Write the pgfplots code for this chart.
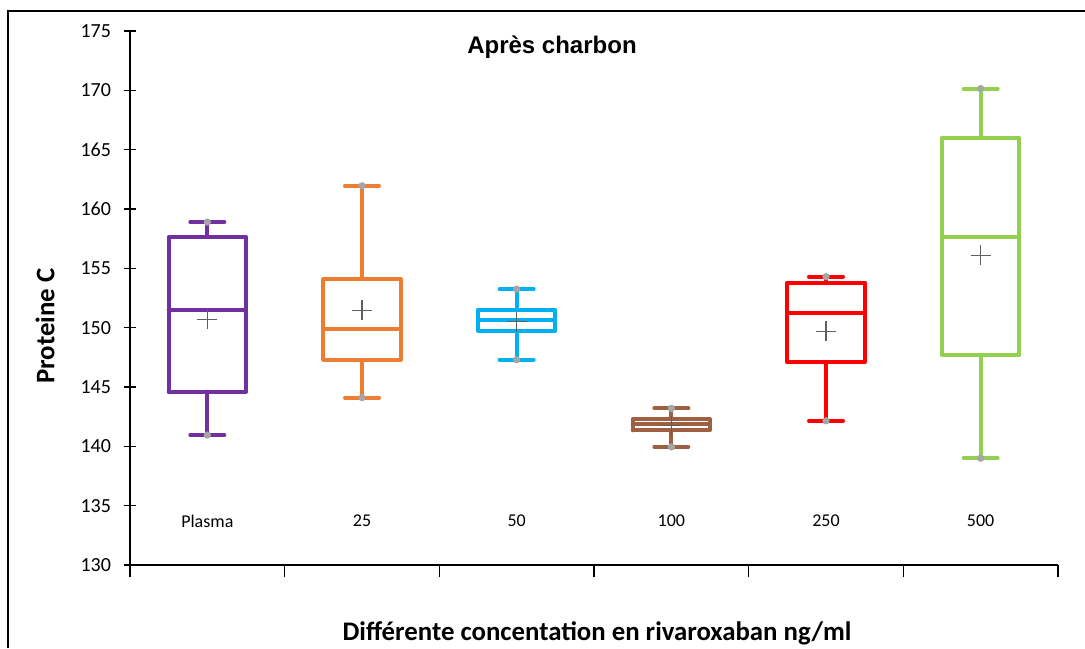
\documentclass[border=0pt]{standalone}
\usepackage{fontspec}
\setmainfont{Carlito}
\newfontfamily\arialfont{Liberation Sans}
\usepackage{pgfplots}
\pgfplotsset{compat=1.18}

\definecolor{cPurple}{HTML}{7030A0}
\definecolor{cOrange}{HTML}{ED7D31}
\definecolor{cCyan}{HTML}{00B0F0}
\definecolor{cBrown}{HTML}{9E5F42}
\definecolor{cRed}{HTML}{FF0000}
\definecolor{cGreen}{HTML}{92D050}
\definecolor{cDot}{HTML}{A6A6A6}
\definecolor{cMean}{HTML}{5F5F5F}

% 1 px of the reference = 0.5pt
\begin{document}
\begin{tikzpicture}
\path[use as bounding box] (0,0) rectangle (542.5pt,324pt);
\draw[line width=0.6pt] (4pt,0) -- (4pt,318.5pt) -- (542.5pt,318.5pt);

\begin{axis}[
    at={(65pt,41.5pt)}, anchor=south west,
    scale only axis, width=464pt, height=267pt,
    xmin=0.5, xmax=6.5, ymin=130, ymax=175,
    axis x line=bottom, axis y line=left,
    axis line style={line width=0.6pt, -},
    xtick={0.5,1.5,...,6.5}, xticklabels={},
    ytick={130,135,...,175},
    x tick style={line width=0.6pt, black},
    y tick style={line width=0.6pt, black},
    xtick align=outside, ytick align=center,
    major tick length=6pt,
    yticklabel style={font=\fontsize{10}{12}\selectfont, xshift=-3pt},
    /pgf/number format/assume math mode=true,
    clip=false,
    unbounded coords=jump,
    box/.style={line width=2pt, line cap=round, line join=round, mark=none},
  ]
  % each box: frame Q1-Q3, median, whiskers and caps (box half width 0.25, cap half width 0.11)
  % Plasma: 140.95 / 144.6 / 151.5 / 157.65 / 158.9
  \addplot[box, cPurple] coordinates {
    (0.75,144.6) (1.25,144.6) (1.25,157.65) (0.75,157.65) (0.75,144.6) (nan,nan)
    (0.75,151.5) (1.25,151.5) (nan,nan)
    (1,157.65) (1,158.9) (nan,nan) (0.89,158.9) (1.11,158.9) (nan,nan)
    (1,144.6) (1,140.95) (nan,nan) (0.89,140.95) (1.11,140.95)};
  % 25: 144.1 / 147.3 / 149.9 / 154.1 / 161.95
  \addplot[box, cOrange] coordinates {
    (1.75,147.3) (2.25,147.3) (2.25,154.1) (1.75,154.1) (1.75,147.3) (nan,nan)
    (1.75,149.9) (2.25,149.9) (nan,nan)
    (2,154.1) (2,161.95) (nan,nan) (1.89,161.95) (2.11,161.95) (nan,nan)
    (2,147.3) (2,144.1) (nan,nan) (1.89,144.1) (2.11,144.1)};
  % 50: 147.3 / 149.75 / 150.65 / 151.5 / 153.25
  \addplot[box, cCyan] coordinates {
    (2.75,149.75) (3.25,149.75) (3.25,151.5) (2.75,151.5) (2.75,149.75) (nan,nan)
    (2.75,150.65) (3.25,150.65) (nan,nan)
    (3,151.5) (3,153.25) (nan,nan) (2.89,153.25) (3.11,153.25) (nan,nan)
    (3,149.75) (3,147.3) (nan,nan) (2.89,147.3) (3.11,147.3)};
  % 100: 139.95 / 141.35 / 141.85 / 142.3 / 143.2
  \addplot[box, cBrown] coordinates {
    (3.75,141.35) (4.25,141.35) (4.25,142.3) (3.75,142.3) (3.75,141.35) (nan,nan)
    (3.75,141.85) (4.25,141.85) (nan,nan)
    (4,142.3) (4,143.2) (nan,nan) (3.89,143.2) (4.11,143.2) (nan,nan)
    (4,141.35) (4,139.95) (nan,nan) (3.89,139.95) (4.11,139.95)};
  % 250: 142.15 / 147.1 / 151.2 / 153.8 / 154.3
  \addplot[box, cRed] coordinates {
    (4.75,147.1) (5.25,147.1) (5.25,153.8) (4.75,153.8) (4.75,147.1) (nan,nan)
    (4.75,151.2) (5.25,151.2) (nan,nan)
    (5,153.8) (5,154.3) (nan,nan) (4.89,154.3) (5.11,154.3) (nan,nan)
    (5,147.1) (5,142.15) (nan,nan) (4.89,142.15) (5.11,142.15)};
  % 500: 139.0 / 147.7 / 157.65 / 166.0 / 170.15
  \addplot[box, cGreen] coordinates {
    (5.75,147.7) (6.25,147.7) (6.25,166.0) (5.75,166.0) (5.75,147.7) (nan,nan)
    (5.75,157.65) (6.25,157.65) (nan,nan)
    (6,166.0) (6,170.15) (nan,nan) (5.89,170.15) (6.11,170.15) (nan,nan)
    (6,147.7) (6,139.0) (nan,nan) (5.89,139.0) (6.11,139.0)};

  % min / max points
  \addplot[only marks, mark=*, mark size=1.6pt, color=cDot] coordinates {
    (1,140.95) (1,158.9) (2,144.1) (2,161.95) (3,147.3) (3,153.25)
    (4,139.95) (4,143.2) (5,142.15) (5,154.3) (6,139.0) (6,170.15)};
  % means
  \addplot[only marks, mark=+, mark size=5pt, color=cMean, mark options={line width=0.7pt}] coordinates {
    (1,150.7) (2,151.45) (3,150.5) (4,141.75) (5,149.7) (6,156.1)};

  \foreach \i/\lab in {1/Plasma,2/25,3/50,4/100,5/250,6/500}{
    \edef\tmp{\noexpand\node[font=\noexpand\fontsize{9}{11}\noexpand\selectfont] at (axis cs:\i,133.7) {\lab};}
    \tmp
  }
\end{axis}

\node[font=\arialfont\bfseries\fontsize{12}{14}\selectfont] at (276pt,300.5pt) {Après charbon};
\node[font=\bfseries\fontsize{13.4}{16}\selectfont, rotate=90] at (22.5pt,161pt) {Proteine C};
\node[font=\bfseries\fontsize{13.4}{16}\selectfont] at (298.5pt,7.5pt) {Différente concentation en rivaroxaban ng/ml};
\end{tikzpicture}
\end{document}
